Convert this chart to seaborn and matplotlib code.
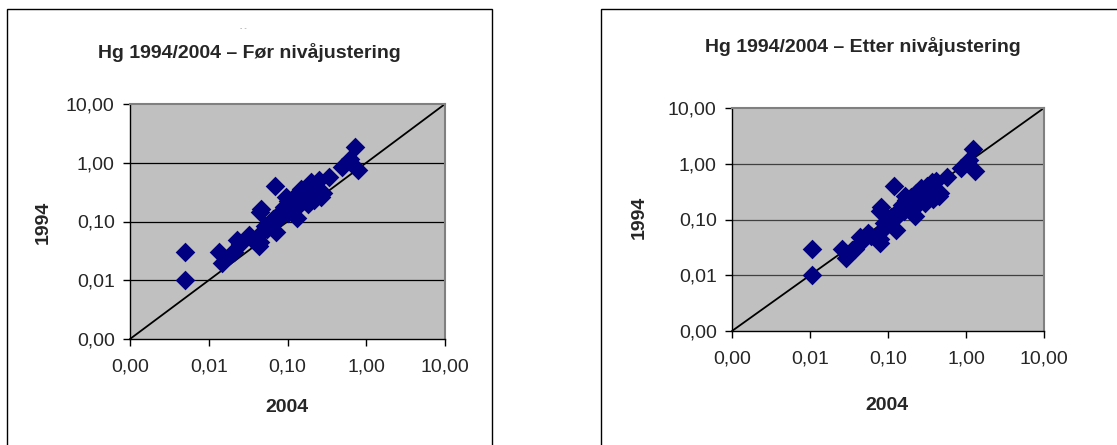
import matplotlib
matplotlib.use("Agg")
import matplotlib.pyplot as plt
import seaborn as sns
import pandas as pd
from matplotlib.patches import Rectangle

# Hg values, 1994 on y, 2004 on x (before / after level adjustment)
hg_1994 = [0.030, 0.010, 0.030, 0.020, 0.028, 0.030, 0.048, 0.042, 0.058, 0.050,
           0.038, 0.045, 0.166, 0.145, 0.400, 0.066, 0.085, 0.075, 0.095, 0.110,
           0.130, 0.120, 0.150, 0.180, 0.260, 0.220, 0.200, 0.116, 0.170, 0.250,
           0.300, 0.360, 0.190, 0.230, 0.280, 0.200, 0.470, 0.500, 0.260, 0.230,
           0.330, 0.400, 0.570, 0.850, 1.180, 1.860, 0.750, 0.280, 0.300, 0.090,
           0.065, 0.100, 0.140]
hg_2004_before = [0.005, 0.005, 0.0136, 0.0147, 0.019, 0.021, 0.023, 0.025, 0.032, 0.035,
                  0.044, 0.045, 0.046, 0.045, 0.0695, 0.072, 0.052, 0.055, 0.060, 0.065,
                  0.075, 0.080, 0.085, 0.090, 0.095, 0.100, 0.105, 0.131, 0.115, 0.120,
                  0.135, 0.150, 0.140, 0.160, 0.170, 0.180, 0.198, 0.250, 0.270, 0.220,
                  0.210, 0.180, 0.336, 0.490, 0.620, 0.720, 0.780, 0.240, 0.280, 0.058,
                  0.048, 0.070, 0.100]
hg_2004_after = [0.0107, 0.0107, 0.0256, 0.029, 0.035, 0.038, 0.044, 0.046, 0.055, 0.060,
                 0.078, 0.080, 0.081, 0.080, 0.120, 0.126, 0.090, 0.095, 0.100, 0.110,
                 0.130, 0.135, 0.140, 0.150, 0.166, 0.170, 0.180, 0.219, 0.190, 0.200,
                 0.230, 0.263, 0.240, 0.280, 0.300, 0.300, 0.363, 0.410, 0.457, 0.380,
                 0.360, 0.320, 0.575, 0.870, 1.100, 1.240, 1.290, 0.420, 0.470, 0.100,
                 0.085, 0.115, 0.160]

tick_values = [0.001, 0.01, 0.1, 1, 10]
tick_labels = ["0,00", "0,01", "0,10", "1,00", "10,00"]

sns.set_style("white")
plt.rcParams['font.family'] = ['Liberation Sans', 'DejaVu Sans']

fig = plt.figure(figsize=(11.17, 4.45), dpi=100)
W, H = 1117, 445

def fx(px):
    return px / W

def fy(py):
    return 1 - py / H

# panel frames (cut off at the bottom / right edge like the source)
fig.patches.append(Rectangle((fx(7), -0.05), fx(492) - fx(7), fy(9) + 0.05,
                             transform=fig.transFigure, fill=False,
                             edgecolor='black', linewidth=1.0))
fig.patches.append(Rectangle((fx(601), -0.05), 0.5, fy(9) + 0.05,
                             transform=fig.transFigure, fill=False,
                             edgecolor='black', linewidth=1.0))

panels = [
    dict(x=hg_2004_before, box=(130, 104, 445, 339), grid='black',
         title="Hg 1994/2004 \u2013 F\u00f8r niv\u00e5justering", title_xy=(249, 52),
         ylab_xy=(43, 222), xlab_xy=(287, 407)),
    dict(x=hg_2004_after, box=(732, 108, 1044, 331), grid='#404040',
         title="Hg 1994/2004 \u2013 Etter niv\u00e5justering", title_xy=(863, 47),
         ylab_xy=(639, 217), xlab_xy=(887, 405)),
]

for p in panels:
    x0, y0, x1, y1 = p['box']
    ax = fig.add_axes([fx(x0), fy(y1), fx(x1) - fx(x0), fy(y0) - fy(y1)])
    ax.set_facecolor('#C0C0C0')
    df = pd.DataFrame({'2004': p['x'], '1994': hg_1994})
    ax.set_xscale('log')
    ax.set_yscale('log')
    ax.set_xlim(tick_values[0], tick_values[-1])
    ax.set_ylim(tick_values[0], tick_values[-1])
    for v in tick_values[1:-1]:
        ax.axhline(v, color=p['grid'], linewidth=0.9, zorder=1)
    ax.plot([tick_values[0], tick_values[-1]], [tick_values[0], tick_values[-1]],
            color='black', linewidth=1.3, zorder=2, clip_on=False)
    sns.scatterplot(data=df, x='2004', y='1994', ax=ax, marker='D', s=100,
                    color='#000080', linewidth=0, zorder=3, legend=False)
    ax.set_xticks(tick_values)
    ax.set_xticklabels(tick_labels)
    ax.set_yticks(tick_values)
    ax.set_yticklabels(tick_labels)
    ax.minorticks_off()
    ax.tick_params(axis='both', which='major', direction='out', length=5, width=1,
                   color='black', labelsize=14, bottom=True, left=True)
    ax.tick_params(axis='x', pad=9)
    ax.tick_params(axis='y', pad=6)
    ax.set_xlabel('')
    ax.set_ylabel('')
    for side in ['left', 'bottom']:
        ax.spines[side].set_color('black')
        ax.spines[side].set_linewidth(1.0)
    for side in ['top', 'right']:
        ax.spines[side].set_color('#808080')
        ax.spines[side].set_linewidth(1.5)

    tx, ty = p['title_xy']
    fig.text(fx(tx), fy(ty), p['title'], ha='center', va='center',
             fontsize=14, fontweight='bold')
    lx, ly = p['ylab_xy']
    fig.text(fx(lx), fy(ly), '1994', ha='center', va='center', rotation=90,
             fontsize=14, fontweight='bold')
    bx, by = p['xlab_xy']
    fig.text(fx(bx), fy(by), '2004', ha='center', va='center',
             fontsize=14, fontweight='bold')

# faint stray marks above the left title in the source
fig.text(fx(243), fy(28), '- -', ha='center', va='center', fontsize=5, color='#999999')

fig.savefig('out.png', dpi=100)
